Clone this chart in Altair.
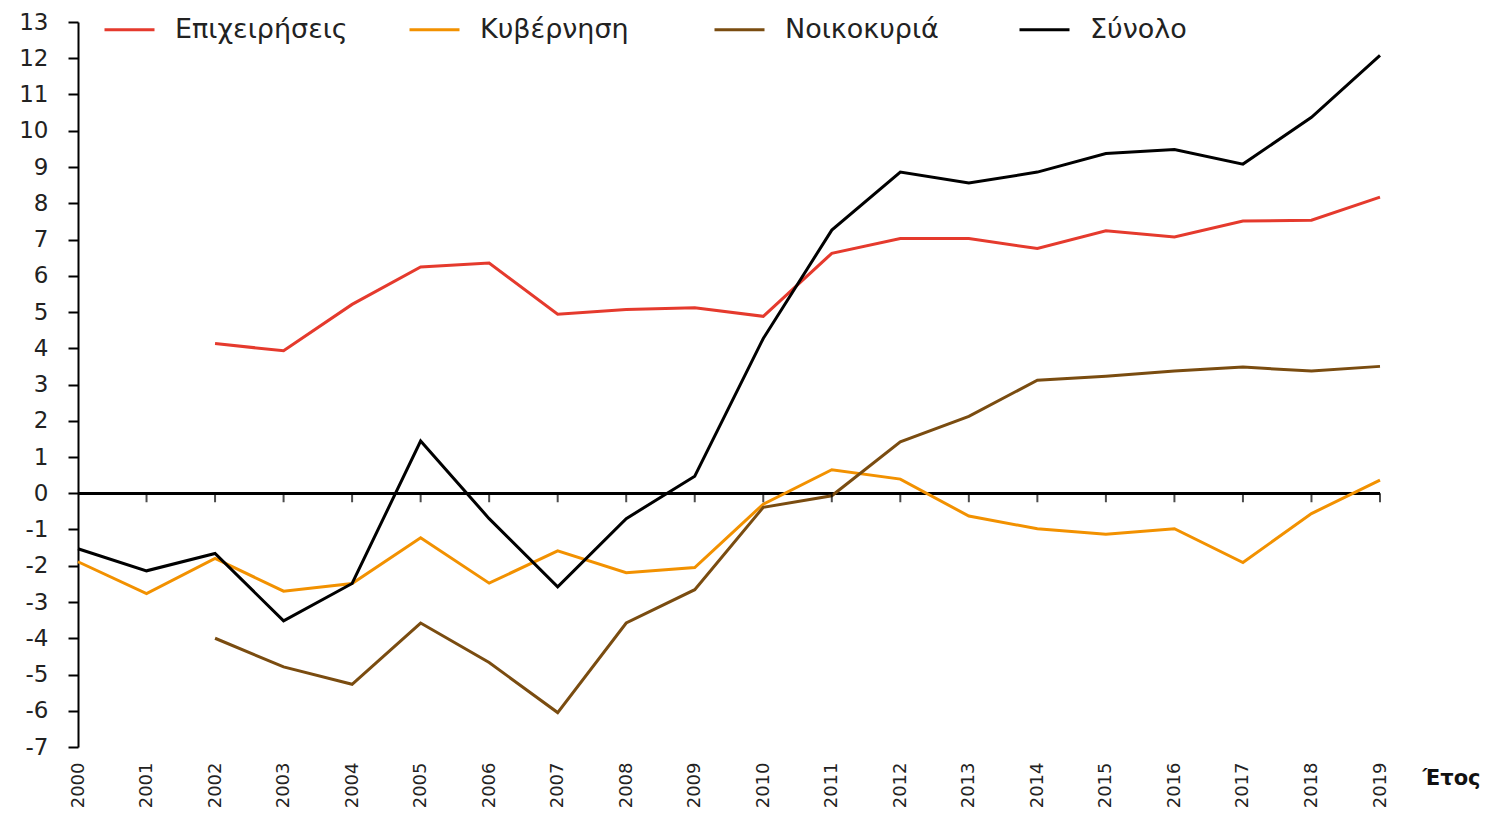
import altair as alt
import pandas as pd

years = list(range(2000, 2020))
series_names = ["Επιχειρήσεις", "Κυβέρνηση", "Νοικοκυριά", "Σύνολο"]
series_colors = ["#e53a2d", "#f29100", "#7a4c10", "#000000"]

business = [None, None, 4.13, 3.93, 5.21, 6.24, 6.35, 4.94, 5.07, 5.12,
            4.88, 6.62, 7.03, 7.03, 6.75, 7.24, 7.07, 7.51, 7.53, 8.17]
government = [-1.89, -2.77, -1.80, -2.70, -2.49, -1.23, -2.48, -1.59, -2.19, -2.05,
              -0.30, 0.65, 0.39, -0.63, -0.98, -1.13, -0.98, -1.91, -0.56, 0.36]
households = [None, None, -4.00, -4.79, -5.27, -3.58, -4.67, -6.05, -3.58, -2.66,
              -0.39, -0.07, 1.42, 2.12, 3.12, 3.23, 3.37, 3.48, 3.37, 3.50]
total = [-1.53, -2.14, -1.66, -3.52, -2.49, 1.44, -0.70, -2.58, -0.70, 0.47,
         4.27, 7.26, 8.86, 8.56, 8.86, 9.37, 9.48, 9.08, 10.37, 12.08]
y_ticks = list(range(-7, 14))

rows = []
for name, vals in zip(series_names, [business, government, households, total]):
    for yr, v in zip(years, vals):
        if v is not None:
            rows.append({"year": yr, "value": v, "series": name})
df = pd.DataFrame(rows)
ticks_df = pd.DataFrame({"year": years[1:]})

FONT = "DejaVu Sans"

x_scale = alt.Scale(domain=[2000, 2019], nice=False, zero=False)
x_axis = alt.Axis(
    values=years, format="d", labelAngle=270, labelAlign="right",
    labelBaseline="middle", labelPadding=15, domain=False, ticks=False,
    tickSize=0, grid=False, labelFontSize=18, labelFont=FONT,
    labelColor="#222222", labelOverlap=False,
    title="Έτος", titleAngle=0, titleX=1344, titleY=31,
    titleAlign="left", titleBaseline="middle", titleFontWeight="bold",
    titleFontSize=21, titleFont=FONT, titleColor="#111111",
)
y_scale = alt.Scale(domain=[-7, 13], nice=False, zero=False)
y_axis = alt.Axis(
    values=y_ticks, tickCount=21, tickSize=10, tickColor="black", tickWidth=2,
    domainColor="black", domainWidth=2, gridColor="#d9d9d9", gridWidth=1.5,
    labelFontSize=23, labelFont=FONT, labelColor="#222222",
    labelExpr="datum.value + ''",
    labelPadding=20, labelOverlap=False, title=None,
)

lines = alt.Chart(df).mark_line(strokeWidth=3).encode(
    x=alt.X("year:Q", scale=x_scale, axis=x_axis),
    y=alt.Y("value:Q", scale=y_scale, axis=y_axis),
    color=alt.Color(
        "series:N",
        scale=alt.Scale(domain=series_names, range=series_colors),
        sort=series_names,
        legend=alt.Legend(
            orient="none", legendX=25, legendY=-19, direction="horizontal",
            title=None, symbolType="stroke", symbolSize=2500,
            symbolStrokeWidth=3, labelFontSize=27, labelFont=FONT,
            labelColor="#222222", columnPadding=55, labelOffset=19,
            gridAlign="all", labelLimit=400,
        ),
    ),
    order=alt.Order("year:Q"),
)

zero_rule = alt.Chart(ticks_df).mark_rule(color="black", strokeWidth=2).encode(
    y=alt.YDatum(0, scale=y_scale, axis=y_axis)
)

zero_ticks = alt.Chart(ticks_df).mark_tick(
    orient="vertical", size=9, thickness=2, color="black", yOffset=4.5
).encode(
    x=alt.X("year:Q", scale=x_scale, axis=x_axis),
    y=alt.YDatum(0, scale=y_scale, axis=y_axis),
)

chart = alt.layer(zero_rule, lines, zero_ticks).properties(
    width=1302,
    height=725,
    autosize=alt.AutoSizeParams(type="none"),
    padding={"left": 70, "top": 14, "right": 100, "bottom": 62},
).configure_view(stroke=None)

chart.save("out.html", embed_options={"renderer": "svg", "actions": False})
